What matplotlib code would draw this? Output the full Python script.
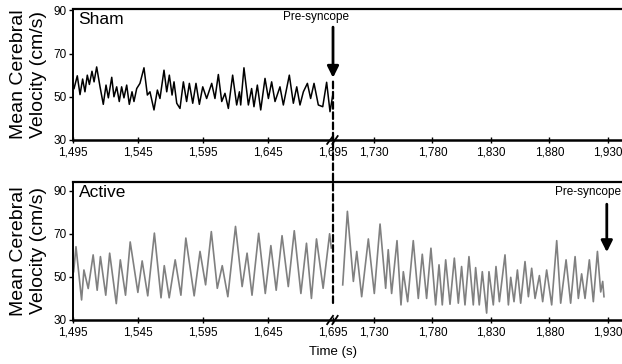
import numpy as np
import matplotlib
matplotlib.use("Agg")
import matplotlib.pyplot as plt
from matplotlib.patches import ConnectionPatch
from matplotlib.ticker import FixedLocator, FuncFormatter

plt.rcParams['font.family'] = ['Liberation Sans', 'DejaVu Sans']

# 时间轴（1695 处断开，右侧比例略压缩）
t_break = 1695
r_right = 0.9
x_ticks = [1495, 1545, 1595, 1645, 1695, 1730, 1780, 1830, 1880, 1930]
y_ticks = [30, 50, 70, 90]

# Sham 曲线（峰/谷读数）
sham_t = [1495.8, 1498.3, 1500.4, 1502.4, 1504.2, 1506.0, 1507.6, 1509.6, 1511.2, 1513.2,
          1515.8, 1518.3, 1520.4, 1522.2, 1524.8, 1526.5, 1528.6, 1530.6, 1532.4, 1534.2,
          1536.3, 1538.3, 1540.4, 1541.9, 1544.0, 1546.5, 1549.6, 1552.2, 1554.2, 1557.3,
          1559.9, 1561.9, 1565.0, 1567.1, 1569.1, 1571.2, 1572.7, 1574.8, 1577.3, 1579.9,
          1582.4, 1584.5, 1587.1, 1589.6, 1592.2, 1594.8, 1597.8, 1601.7, 1604.2, 1606.8,
          1609.4, 1611.9, 1614.5, 1617.8, 1620.9, 1623.0, 1624.0, 1626.5, 1629.9, 1632.4,
          1634.2, 1636.8, 1639.4, 1642.7, 1645.3, 1647.8, 1650.4, 1654.2, 1656.8, 1661.4,
          1664.5, 1667.1, 1669.6, 1672.2, 1675.3, 1677.8, 1680.4, 1683.7, 1687.1, 1690.1,
          1692.7, 1694.8]
sham_v = [53.8, 59.7, 51.0, 58.2, 52.3, 60.0, 55.7, 61.8, 56.9, 63.8,
          54.6, 46.5, 55.4, 49.5, 59.0, 50.0, 54.6, 47.8, 54.6, 49.5,
          55.4, 46.5, 52.3, 47.8, 53.8, 56.2, 63.4, 50.8, 52.3, 43.9,
          53.1, 49.2, 62.3, 52.3, 60.0, 50.8, 56.9, 47.0, 44.6, 56.9,
          47.8, 56.2, 47.0, 56.2, 46.5, 54.6, 49.2, 56.2, 49.2, 60.3,
          47.8, 51.6, 44.6, 60.0, 46.2, 52.3, 46.2, 63.4, 46.2, 53.8,
          45.4, 55.4, 43.9, 58.5, 49.2, 56.9, 47.8, 54.6, 46.2, 60.0,
          47.0, 54.6, 46.2, 52.3, 56.2, 49.2, 56.2, 46.2, 45.4, 56.7,
          43.1, 50.8]

# Active 曲线，断点前
active_t1 = [1495.5, 1497.3, 1501.6, 1503.4, 1506.7, 1510.5, 1513.6, 1516.1, 1520.2, 1523.2,
             1528.3, 1531.4, 1535.4, 1539.0, 1544.9, 1548.2, 1552.5, 1557.6, 1562.7, 1565.2,
             1569.0, 1573.6, 1578.0, 1581.8, 1588.2, 1592.7, 1597.0, 1601.4, 1606.0, 1609.8,
             1614.1, 1620.0, 1625.1, 1628.9, 1632.7, 1637.8, 1642.9, 1647.2, 1651.3, 1655.8,
             1660.6, 1665.2, 1670.3, 1674.6, 1678.4, 1682.3, 1687.4, 1692.4, 1693.7]
active_v1 = [52.4, 64.0, 39.3, 53.2, 44.6, 60.2, 43.8, 59.4, 41.5, 61.0,
             37.6, 57.9, 41.5, 66.2, 42.8, 57.4, 41.2, 70.3, 40.3, 55.2,
             40.3, 57.9, 41.5, 68.0, 41.2, 61.8, 46.3, 71.0, 44.7, 55.2,
             40.8, 73.4, 45.5, 61.0, 41.5, 70.2, 42.3, 64.5, 43.8, 69.1,
             45.5, 71.4, 42.3, 65.6, 40.0, 67.6, 44.7, 70.0, 63.4]

# Active 曲线，断点后
active_t2 = [1703.3, 1707.3, 1712.4, 1715.3, 1719.5, 1725.2, 1730.3, 1735.2, 1740.0, 1742.2,
             1745.1, 1749.7, 1753.1, 1755.1, 1758.8, 1763.6, 1767.9, 1771.3, 1775.0, 1778.7,
             1782.7, 1785.6, 1788.4, 1791.3, 1795.0, 1798.7, 1802.1, 1804.9, 1807.8, 1811.2,
             1814.9, 1816.9, 1820.0, 1822.6, 1826.3, 1828.3, 1832.0, 1834.3, 1837.2, 1842.0,
             1844.9, 1846.9, 1849.7, 1852.6, 1855.4, 1859.1, 1862.0, 1864.8, 1867.7, 1871.4,
             1874.2, 1877.6, 1881.9, 1886.2, 1889.6, 1894.2, 1898.1, 1901.9, 1904.7, 1907.5,
             1910.4, 1914.1, 1917.5, 1921.0, 1923.8, 1925.5, 1926.6]
active_v2 = [46.3, 80.4, 47.9, 61.8, 40.8, 67.6, 42.3, 74.5, 44.7, 62.6,
             42.3, 66.8, 37.0, 52.4, 38.5, 66.8, 40.0, 60.5, 40.0, 63.3,
             37.0, 55.6, 37.0, 57.9, 37.3, 58.7, 37.8, 54.8, 37.0, 59.4,
             37.0, 54.3, 37.0, 52.4, 33.2, 52.4, 37.0, 54.8, 38.5, 60.2,
             37.0, 49.8, 38.5, 53.2, 37.8, 57.1, 40.8, 54.0, 40.0, 50.6,
             38.5, 53.2, 37.0, 66.8, 37.8, 57.9, 37.8, 59.4, 40.0, 51.4,
             40.0, 57.9, 38.5, 61.8, 43.0, 47.9, 40.8]


def fwd(t):
    t = np.asarray(t, dtype=float)
    return np.where(t <= t_break, t, t_break + (t - t_break) * r_right)


def inv(u):
    u = np.asarray(u, dtype=float)
    return np.where(u <= t_break, u, t_break + (u - t_break) / r_right)


W, H = 622, 364
fig = plt.figure(figsize=(W / 100, H / 100), dpi=100)
ax1 = fig.add_axes([73 / W, 1 - 140 / H, 549 / W, 131 / H])
ax2 = fig.add_axes([73 / W, 1 - 320 / H, 549 / W, 138 / H])

ax1.plot(sham_t, sham_v, color='black', lw=1.1)
ax2.plot(active_t1, active_v1, color='#808080', lw=1.2)
ax2.plot(active_t2, active_v2, color='#808080', lw=1.2)

for ax, ytop in ((ax1, 90.6), (ax2, 94)):
    ax.set_xscale('function', functions=(fwd, inv))
    ax.set_xlim(1495, 1942)
    ax.set_ylim(30, ytop)
    ax.xaxis.set_major_locator(FixedLocator(x_ticks))
    ax.xaxis.set_minor_locator(FixedLocator([]))
    ax.xaxis.set_major_formatter(FuncFormatter(lambda v, p: f'{int(round(v)):,}'))
    ax.set_yticks(y_ticks)
    ax.spines['right'].set_visible(False)
    ax.spines['top'].set_linewidth(1.6)
    ax.spines['bottom'].set_linewidth(1.8)
    ax.spines['left'].set_linewidth(1.4)
    ax.tick_params(axis='both', labelsize=8.5, length=3, width=1, pad=1.5)
    ax.tick_params(axis='x', direction='inout', length=4, pad=2.5)
    ax.set_ylabel('Mean Cerebral\nVelocity (cm/s)', fontsize=14, linespacing=1.2)
    ax.yaxis.set_label_coords((47 - 73) / 549, 0.5)
    # 断轴标记 //
    tr = ax.get_xaxis_transform()
    for x0 in (1690.5, 1694.5):
        ax.plot([x0, x0 + 4.5], [-0.03, 0.03], color='black', lw=1.3,
                transform=tr, clip_on=False)

ax1.text(0.01, 0.975, 'Sham', transform=ax1.transAxes, fontsize=12.5, va='top', ha='left')
ax2.text(0.01, 0.975, 'Active', transform=ax2.transAxes, fontsize=12.5, va='top', ha='left')

# Pre-syncope 标注
ax1.text(1682, 86.8, 'Pre-syncope', fontsize=8.5, ha='center', va='center')
ax1.annotate('', xy=(1695, 57.5), xytext=(1695, 83.5),
             arrowprops=dict(arrowstyle='-|>', color='black', lw=2, mutation_scale=17))
ax2.text(0.999, 89.3, 'Pre-syncope', transform=ax2.get_yaxis_transform(),
         fontsize=8.5, ha='right', va='center')
ax2.annotate('', xy=(1929, 60.2), xytext=(1929, 85),
             arrowprops=dict(arrowstyle='-|>', color='black', lw=2, mutation_scale=17))

# 贯穿两个面板的虚线
con = ConnectionPatch(xyA=(1695, 57), coordsA=ax1.transData,
                      xyB=(1695, 37), coordsB=ax2.transData,
                      linestyle=(0, (3, 1.6)), lw=1.6, color='black')
fig.add_artist(con)

fig.text(333 / W, 1 - 352 / H, 'Time (s)', fontsize=9.5, ha='center', va='center')

fig.savefig('out.png', dpi=100)
